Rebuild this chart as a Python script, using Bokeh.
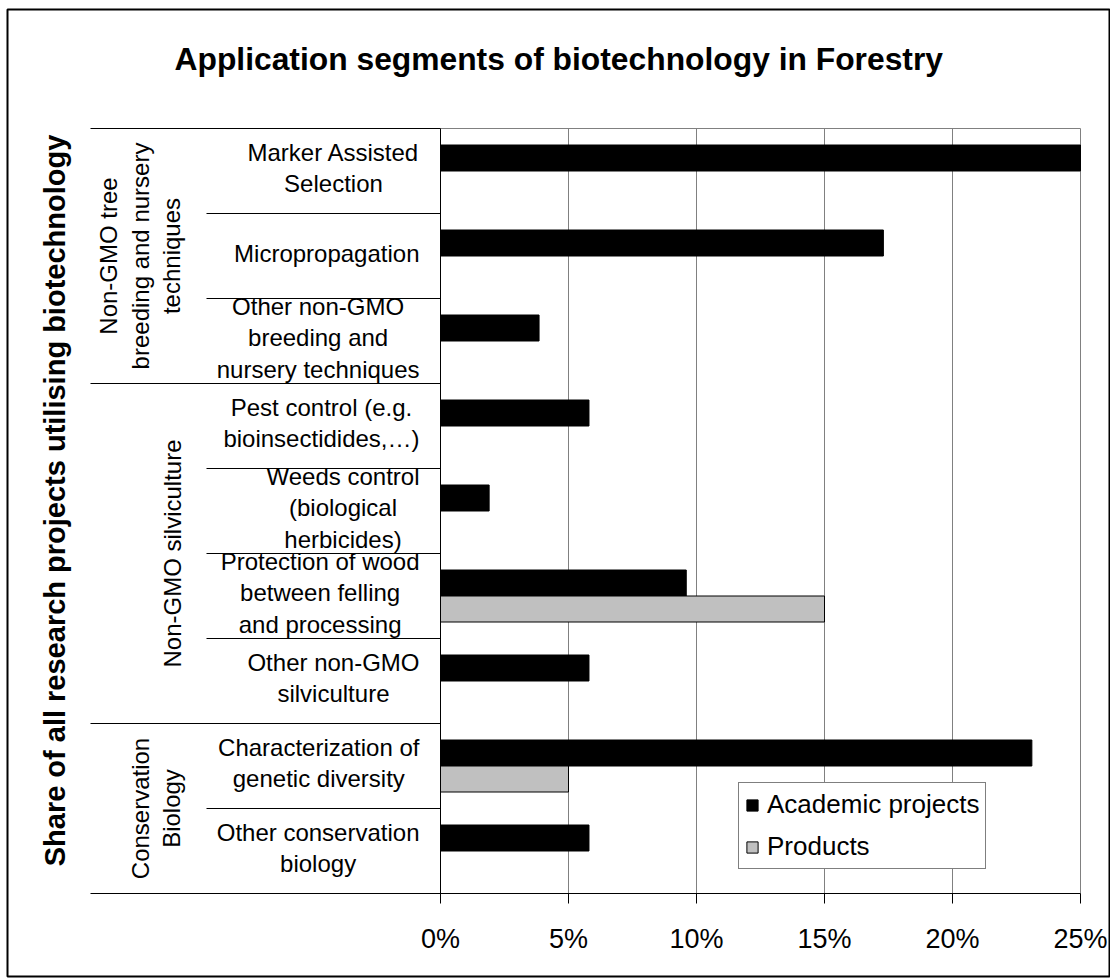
import math
from bokeh.plotting import figure
from bokeh.models import Range1d, FixedTicker, PrintfTickFormatter
from bokeh.core.properties import value
from bokeh.embed import file_html
from bokeh.resources import INLINE

# ---------------- data ----------------
title_text = "Application segments of biotechnology in Forestry"
y_title = "Share of all research projects utilising biotechnology"
categories = [
    "Marker Assisted\nSelection",
    "Micropropagation",
    "Other non-GMO\nbreeding and\nnursery techniques",
    "Pest control (e.g.\nbioinsectidides,…)",
    "Weeds control\n(biological\nherbicides)",
    "Protection of wood\nbetween felling\nand processing",
    "Other non-GMO\nsilviculture",
    "Characterization of\ngenetic diversity",
    "Other conservation\nbiology",
]
groups = [
    "Non-GMO tree\nbreeding and nursery\ntechniques",
    "Non-GMO silviculture",
    "Conservation\nBiology",
]
group_sizes = [3, 4, 2]
series_names = ["Academic projects", "Products"]
academic = [25.0, 17.3, 3.85, 5.8, 1.9, 9.6, 5.8, 23.1, 5.8]
products = [0, 0, 0, 0, 0, 15.0, 0, 5.0, 0]
x_ticks = [0, 5, 10, 15, 20, 25]

# ---------------- layout (canvas pixels) ----------------
FONT = "Liberation Sans"
W, H = 1110, 978
BOX_L, BOX_R, BOX_T, BOX_B = 7, 1109, 9, 976      # outer chart border = frame
LAB_L = 90                                         # left end of group lines
ZERO_PX, FULL_PX = 440, 1080                       # 0% and 25%
TOP_PX, BOT_PX = 128, 893                          # category area
XMAX = x_ticks[-1]
ppu = (FULL_PX - ZERO_PX) / XMAX
n = len(categories)
cat_px = (BOT_PX - TOP_PX) / n


def to_x(px):
    return (px - ZERO_PX) / ppu


def to_y(py):
    return (py - TOP_PX) / cat_px


p = figure(width=W, height=H,
           x_range=Range1d(to_x(BOX_L), to_x(BOX_R)),
           y_range=Range1d(to_y(BOX_B), to_y(BOX_T)),
           output_backend="svg", toolbar_location=None,
           min_border_left=BOX_L, min_border_right=W - BOX_R,
           min_border_top=BOX_T, min_border_bottom=H - BOX_B)
p.extra_x_ranges = {"px": Range1d(BOX_L, BOX_R)}
p.extra_y_ranges = {"px": Range1d(BOX_B, BOX_T)}
p.outline_line_color = "black"
p.outline_line_width = 2
p.background_fill_color = "white"
p.border_fill_color = "white"
p.xgrid.visible = False
p.ygrid.visible = False
p.yaxis.visible = False

# x axis drawn at the bottom of the category area
xa = p.xaxis[0]
xa.fixed_location = n
xa.bounds = (to_x(LAB_L), XMAX)
xa.ticker = FixedTicker(ticks=x_ticks)
xa.formatter = PrintfTickFormatter(format="%d%%")
xa.minor_tick_line_color = None
xa.major_tick_in = 0
xa.major_tick_out = 10
xa.major_tick_line_color = "black"
xa.axis_line_color = "black"
xa.major_label_text_font = FONT
xa.major_label_text_font_size = "27px"
xa.major_label_text_color = "black"
xa.major_label_standoff = 20

# gridlines and plot-area lines
p.segment(x0=x_ticks[1:], y0=[0] * (len(x_ticks) - 1), x1=x_ticks[1:], y1=[n] * (len(x_ticks) - 1),
          line_color="#808080", line_width=1)
p.segment(x0=[0], y0=[0], x1=[XMAX], y1=[0], line_color="#808080", line_width=1)
p.segment(x0=[0], y0=[0], x1=[0], y1=[n], line_color="black", line_width=1)

# category separators
bounds = [0]
for g in group_sizes:
    bounds.append(bounds[-1] + g)
inner = [i for i in range(1, n) if i not in bounds]
p.segment(x0=[206] * len(inner), y0=inner, x1=[ZERO_PX] * len(inner), y1=inner,
          x_range_name="px", line_color="black", line_width=1)
gb = bounds[:-1]
p.segment(x0=[LAB_L] * len(gb), y0=gb, x1=[ZERO_PX] * len(gb), y1=gb,
          x_range_name="px", line_color="black", line_width=1)

# bars
bh = 26 / cat_px
y_ac = [i + 0.5 - bh / 2 for i in range(n)]
y_pr = [i + 0.5 + bh / 2 for i in range(n)]
p.hbar(y=y_ac, left=0, right=academic, height=bh, fill_color="black",
       line_color="black", line_width=1, legend_label=series_names[0])
pi_ = [i for i in range(n) if products[i] > 0]
p.hbar(y=[y_pr[i] for i in pi_], left=0, right=[products[i] for i in pi_], height=bh,
       fill_color="#c0c0c0", line_color="black", line_width=1, legend_label=series_names[1])

# category labels
p.text(x=[419] * n, y=[i + 0.5 for i in range(n)], text=categories, x_range_name="px",
       text_font=value(FONT), text_font_size="24px", text_color="black",
       text_align="center", text_baseline="middle", anchor=value("center_right"),
       text_line_height=1.18, y_offset=-3)

# group labels (rotated)
g_centers = [(bounds[k] + bounds[k + 1]) / 2 for k in range(len(groups))]
p.text(x=[185] * len(groups), y=g_centers, text=groups, x_range_name="px",
       angle=math.pi / 2, text_font=value(FONT), text_font_size="24px", text_color="black",
       text_align="center", text_baseline="bottom", anchor=value("bottom_center"),
       text_line_height=1.18)

# chart title
p.text(x=[174], y=[58], text=[title_text], x_range_name="px", y_range_name="px",
       text_font=value(FONT), text_font_size="31.8px", text_font_style="bold",
       text_color="black", text_align="left", text_baseline="alphabetic")

# value-axis title (rotated)
p.text(x=[54], y=[500], text=[y_title], x_range_name="px", y_range_name="px",
       angle=math.pi / 2, text_font=value(FONT), text_font_size="29px", text_font_style="bold",
       text_color="black", text_align="center", text_baseline="alphabetic")

# legend
lg = p.legend[0]
lg.location = (738 - BOX_L, BOX_B - 869)
lg.label_text_font = FONT
lg.label_text_font_size = "26px"
lg.label_text_color = "black"
lg.glyph_width = 14
lg.glyph_height = 14
lg.label_standoff = 8
lg.padding = 6
lg.spacing = 11
lg.margin = 0
lg.border_line_color = "black"
lg.border_line_width = 1
lg.background_fill_color = "white"
lg.background_fill_alpha = 1

open("out.html", "w").write(file_html(p, INLINE))
